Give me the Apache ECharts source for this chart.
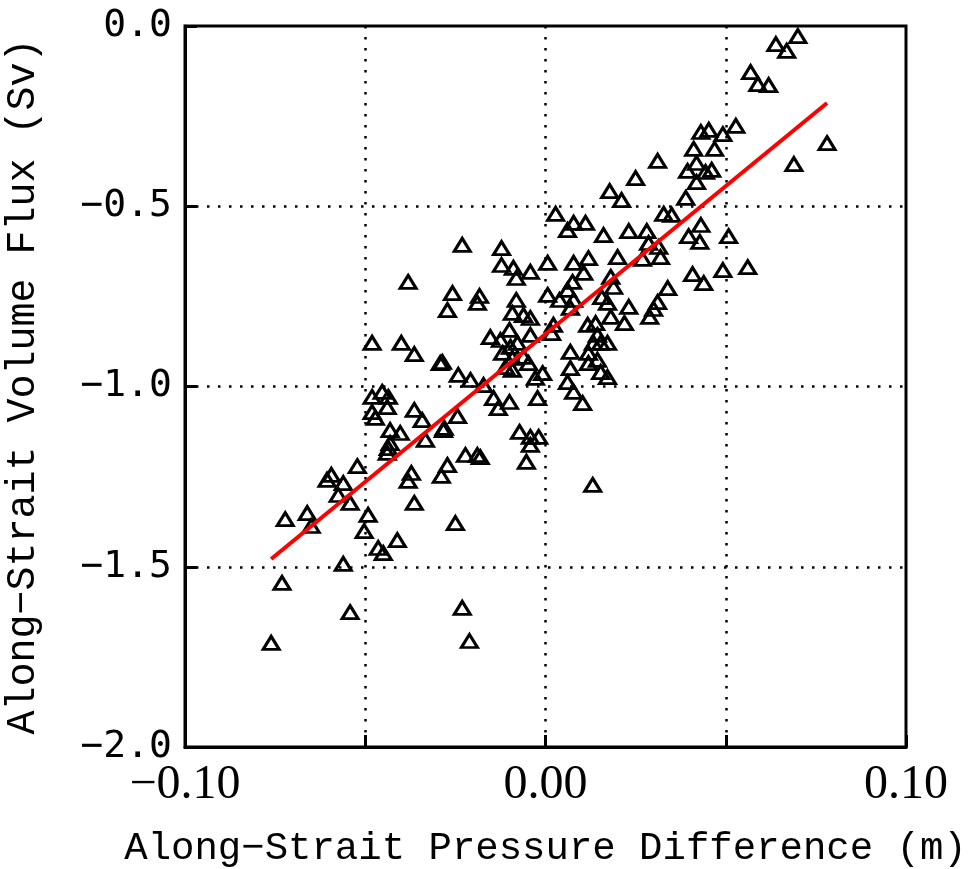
<!DOCTYPE html>
<html>
<head>
<meta charset="utf-8">
<script src="https://cdn.jsdelivr.net/npm/echarts@6/dist/echarts.min.js"></script>
<style>
html,body{margin:0;padding:0;background:#fff;}
#chart{width:974px;height:869px;}
</style>
</head>
<body>
<div id="chart"></div>
<script>
// Along-strait pressure difference (m)
const pressureDiff = [
 0.0700,0.0639,0.0669,0.0569,0.0589,0.0619,0.0528,0.0781,0.0689,0.0431,
 0.0453,0.0492,0.0411,0.0469,0.0311,0.0419,0.0394,0.0444,0.0461,0.0419,
 0.0250,0.0178,0.0211,0.0389,0.0328,0.0350,0.0431,0.0397,0.0428,0.0508,
 0.0231,0.0281,0.0161,0.0200,0.0269,0.0319,0.0286,0.0314,0.0408,0.0439,
 0.0492,0.0561,0.0339,0.0311,0.0300,0.0289,0.0231,0.0219,0.0181,0.0189,
 0.0156,0.0028,0.0061,0.0078,0.0111,0.0006,0.0078,0.0119,0.0106,0.0075,
 0.0061,0.0006,0.0039,0.0078,0.0069,0.0172,0.0181,0.0022,0.0017,0.0117,
 0.0139,0.0144,0.0153,0.0172,0.0133,0.0069,0.0119,0.0069,0.0144,0.0153,
 0.0172,0.0061,0.0078,0.0103,-0.0008,0.0131,0.0119,
 -0.0231,-0.0122,-0.0122,-0.0089,-0.0081,-0.0042,-0.0258,-0.0183,-0.0189,-0.0272,
 -0.0081,-0.0092,-0.0061,-0.0042,-0.0153,-0.0125,-0.0100,-0.0078,-0.0042,-0.0097,
 -0.0119,-0.0092,-0.0061,-0.0047,-0.0111,-0.0092,-0.0028,-0.0242,-0.0208,-0.0172,
 -0.0144,-0.0131,-0.0100,-0.0022,-0.0286,-0.0244,-0.0281,-0.0072,-0.0042,-0.0019,
 -0.0042,-0.0222,-0.0189,-0.0181,-0.0053,-0.0272,
 -0.0381,-0.0481,-0.0400,-0.0364,-0.0292,-0.0481,-0.0453,-0.0436,-0.0439,-0.0481,
 -0.0472,-0.0364,-0.0342,-0.0431,-0.0403,-0.0431,-0.0436,-0.0439,-0.0333,-0.0283,
 -0.0522,-0.0594,-0.0606,-0.0561,-0.0372,-0.0289,-0.0381,-0.0364,-0.0575,-0.0542,
 -0.0722,-0.0661,-0.0650,-0.0492,-0.0503,-0.0411,-0.0464,-0.0450,-0.0250,-0.0561,
 -0.0731,-0.0542,-0.0231,-0.0211,-0.0761
];
// Along-strait volume flux (Sv)
const volumeFlux = [
 -0.028,-0.050,-0.069,-0.128,-0.161,-0.164,-0.277,-0.325,-0.383,-0.294,
 -0.288,-0.300,-0.341,-0.341,-0.374,-0.380,-0.402,-0.405,-0.399,-0.433,
 -0.422,-0.458,-0.483,-0.477,-0.521,-0.524,-0.552,-0.583,-0.599,-0.583,
 -0.569,-0.569,-0.580,-0.641,-0.646,-0.641,-0.602,-0.613,-0.688,-0.713,
 -0.677,-0.669,-0.727,-0.766,-0.785,-0.807,-0.779,-0.824,-0.696,-0.724,
 -0.752,-0.521,-0.566,-0.546,-0.546,-0.657,-0.657,-0.644,-0.685,-0.710,
 -0.732,-0.746,-0.760,-0.760,-0.782,-0.768,-0.807,-0.829,-0.852,-0.829,
 -0.824,-0.857,-0.879,-0.879,-0.879,-0.904,-0.907,-0.949,-0.926,-0.960,
 -0.974,-0.988,-1.015,-1.046,-0.963,-1.273,-0.935,
 -0.607,-0.616,-0.663,-0.671,-0.699,-0.682,-0.741,-0.749,-0.768,-0.788,
 -0.760,-0.796,-0.802,-0.810,-0.863,-0.871,-0.843,-0.879,-0.857,-0.890,
 -0.907,-0.921,-0.918,-0.935,-0.946,-0.954,-0.976,-0.968,-0.982,-0.996,
 -1.032,-1.060,-1.043,-1.032,-0.932,-1.082,-1.115,-1.126,-1.140,-1.140,
 -1.162,-1.190,-1.190,-1.196,-1.209,-1.218,
 -0.710,-0.879,-0.879,-0.910,-0.935,-1.029,-1.015,-1.029,-1.057,-1.071,
 -1.087,-1.065,-1.093,-1.121,-1.129,-1.157,-1.171,-1.184,-1.148,-1.121,
 -1.221,-1.245,-1.259,-1.268,-1.240,-1.248,-1.262,-1.323,-1.301,-1.323,
 -1.368,-1.351,-1.387,-1.356,-1.401,-1.426,-1.448,-1.462,-1.379,-1.492,
 -1.545,-1.626,-1.614,-1.706,-1.711
];
// Regression line end points
const fitX = [-0.0761, 0.0781];
const fitY = [-1.4785, -0.2136];
// Tick labels
const xTickValues = [-0.10, 0.00, 0.10];
const xTickLabels = ['\u22120.10', '0.00', '0.10'];
const yTickValues = [0.0, -0.5, -1.0, -1.5, -2.0];
const yTickLabels = ['0.0', '\u22120.5', '\u22121.0', '\u22121.5', '\u22122.0'];
const xTitle = 'Along\u2212Strait Pressure Difference (m)';
const yTitle = 'Along\u2212Strait Volume Flux (Sv)';

const scatterData = pressureDiff.map((x, i) => [x, volumeFlux[i]]);
const lineData = fitX.map((x, i) => [x, fitY[i]]);

function lookup(vals, labels, v) {
  for (let i = 0; i < vals.length; i++) {
    if (Math.abs(vals[i] - v) < 1e-9) return labels[i];
  }
  return '';
}

const chart = echarts.init(document.getElementById('chart'), null, {renderer: 'canvas'});
const dotted = {color: '#000', width: 2.5, type: [2.5, 8.5]};
chart.setOption({
  animation: false,
  backgroundColor: '#fff',
  grid: {left: 185, top: 26, width: 721, height: 721, show: true, borderColor: '#000', borderWidth: 3,
    backgroundColor: 'transparent', containLabel: false, outerBoundsMode: 'none'},
  xAxis: {
    type: 'value', min: -0.1, max: 0.1, interval: 0.05,
    name: xTitle, nameLocation: 'middle', nameGap: 82,
    nameTextStyle: {fontFamily: 'Liberation Mono', fontSize: 39, color: '#000'},
    axisLine: {show: true, onZero: false, lineStyle: {color: '#000', width: 3}},
    axisTick: {show: true, inside: true, length: 12, lineStyle: {color: '#000', width: 3}},
    axisLabel: {margin: 14, fontFamily: 'Liberation Serif', fontSize: 48, color: '#000',
      formatter: v => lookup(xTickValues, xTickLabels, v)},
    splitLine: {show: true, showMinLine: false, showMaxLine: false, lineStyle: dotted}
  },
  yAxis: {
    type: 'value', min: -2, max: 0, interval: 0.5,
    name: yTitle, nameLocation: 'middle', nameGap: 142, nameRotate: 90,
    nameTextStyle: {fontFamily: 'Liberation Mono', fontSize: 40, color: '#000'},
    axisLine: {show: true, onZero: false, lineStyle: {color: '#000', width: 3}},
    axisTick: {show: true, inside: true, length: 12, lineStyle: {color: '#000', width: 3}},
    axisLabel: {margin: 13, fontFamily: 'DejaVu Sans Mono', fontSize: 38, color: '#000',
      formatter: v => lookup(yTickValues, yTickLabels, v)},
    splitLine: {show: true, showMinLine: false, showMaxLine: false, lineStyle: dotted}
  },
  series: [
    {
      type: 'scatter', data: scatterData, symbol: 'triangle', symbolSize: [16, 13],
      itemStyle: {color: 'rgba(0,0,0,0)', borderColor: '#000', borderWidth: 3, opacity: 1},
      z: 3
    },
    {
      type: 'line', data: lineData, symbol: 'none',
      lineStyle: {color: '#ff0000', width: 4}, z: 4
    }
  ]
});
</script>
</body>
</html>
